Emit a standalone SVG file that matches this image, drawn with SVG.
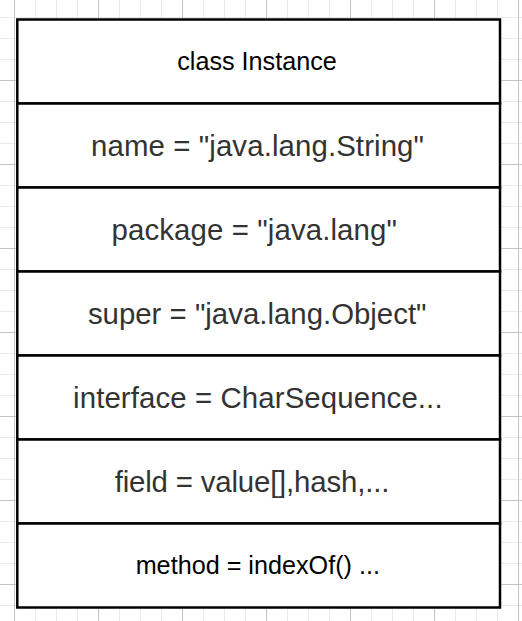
<svg xmlns="http://www.w3.org/2000/svg" width="522" height="621" viewBox="0 0 522 621">
  <defs>
    <!-- background grid: 21px minor cells, major line every 4 cells -->
    <pattern id="grid" x="14" y="80" width="84" height="84" patternUnits="userSpaceOnUse">
      <path d="M21.5 0V84M42.5 0V84M63.5 0V84M0 21.5H84M0 42.5H84M0 63.5H84" stroke="#e9e9e9" stroke-width="1" fill="none"/>
      <path d="M0.5 0V84M0 0.5H84" stroke="#c4c4c4" stroke-width="1" fill="none"/>
    </pattern>
    <style>
      .cell { fill: #ffffff; stroke: #000000; stroke-width: 2.5; }
      .big { font-family: "Liberation Sans", Arial, sans-serif; font-size: 29.4px; fill: #333333; text-anchor: middle; }
      .small { font-family: "Liberation Sans", Arial, sans-serif; font-size: 25.2px; fill: #000000; text-anchor: middle; }
    </style>
  </defs>

  <rect x="0" y="0" width="522" height="621" fill="#ffffff"/>
  <rect x="0" y="0" width="522" height="621" fill="url(#grid)"/>

  <g id="row-class">
    <rect class="cell" x="17.3" y="19.5" width="482.7" height="84"/>
    <text class="small" x="257" y="70">class Instance</text>
  </g>
  <g id="row-name">
    <rect class="cell" x="17.3" y="103.5" width="482.7" height="84"/>
    <text class="big" x="257.5" y="156" textLength="333" lengthAdjust="spacing">name = "java.lang.String"</text>
  </g>
  <g id="row-package">
    <rect class="cell" x="17.3" y="187.5" width="482.7" height="84"/>
    <text class="big" x="254.2" y="240" textLength="285.5" lengthAdjust="spacing">package = "java.lang"</text>
  </g>
  <g id="row-super">
    <rect class="cell" x="17.3" y="271.5" width="482.7" height="84"/>
    <text class="big" x="257.2" y="324">super = "java.lang.Object"</text>
  </g>
  <g id="row-interface">
    <rect class="cell" x="17.3" y="355.5" width="482.7" height="84"/>
    <text class="big" x="257.8" y="408" textLength="369.5" lengthAdjust="spacing">interface = CharSequence...</text>
  </g>
  <g id="row-field">
    <rect class="cell" x="17.3" y="439.5" width="482.7" height="84"/>
    <text class="big" x="252" y="492" textLength="274.6" lengthAdjust="spacing">field = value[],hash,...</text>
  </g>
  <g id="row-method">
    <rect class="cell" x="17.3" y="523.5" width="482.7" height="84"/>
    <text class="small" x="257.8" y="574">method = indexOf() ...</text>
  </g>
</svg>
